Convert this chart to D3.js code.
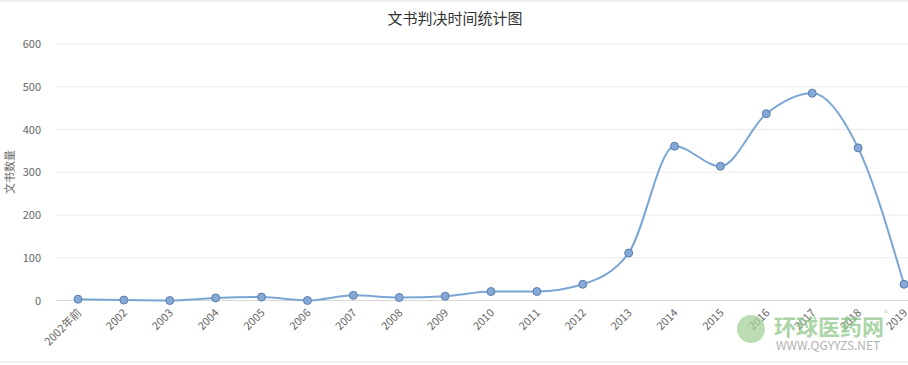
<!DOCTYPE html>
<html>
<head>
<meta charset="utf-8">
<script src="https://cdn.jsdelivr.net/npm/d3@7"></script>
<style>
  body { margin: 0; background: #fff; }
  text { font-family: "Noto Sans CJK SC", "Lato", sans-serif; }
</style>
</head>
<body>
<svg id="chart" width="908" height="365"></svg>
<script>
// data
const categories = ['2002年前', '2002', '2003', '2004', '2005', '2006', '2007', '2008', '2009',
  '2010', '2011', '2012', '2013', '2014', '2015', '2016', '2017', '2018', '2019'];
const counts = [3, 1, 0, 6, 8, 0, 12, 7, 10, 21, 21, 38, 111, 361, 314, 437, 485, 357, 38];
const yTicks = [0, 100, 200, 300, 400, 500, 600];

const svg = d3.select('#chart');

// frame lines
svg.append('line').attr('x1', 0).attr('x2', 908).attr('y1', 1).attr('y2', 1)
  .attr('stroke', '#e0e0e0');
svg.append('line').attr('x1', 0).attr('x2', 908).attr('y1', 362).attr('y2', 362)
  .attr('stroke', '#e0e0e0');

svg.append('text')
  .attr('x', 455).attr('y', 24)
  .attr('text-anchor', 'middle')
  .attr('font-size', 15)
  .attr('fill', '#333')
  .text('文书判决时间统计图');

let x = d3.scalePoint()
  .domain(categories)
  .range([78, 904]);

let y = d3.scaleLinear()
  .domain([0, 600])
  .range([300.5, 44]);

// gridlines
svg.append('g')
  .selectAll('line')
  .data(yTicks.slice(1))
  .join('line')
  .attr('x1', 56).attr('x2', 908)
  .attr('y1', d => y(d)).attr('y2', d => y(d))
  .attr('stroke', '#ececec');

// y labels
svg.append('g')
  .selectAll('text')
  .data(yTicks)
  .join('text')
  .attr('x', 41)
  .attr('y', d => y(d) + 4)
  .attr('text-anchor', 'end')
  .attr('font-size', 11)
  .attr('fill', '#666')
  .text(d => d);

svg.append('text')
  .attr('transform', 'translate(14,172) rotate(-90)')
  .attr('text-anchor', 'middle')
  .attr('font-size', 11)
  .attr('fill', '#666')
  .text('文书数量');

// x baseline
svg.append('line')
  .attr('x1', 56).attr('x2', 908)
  .attr('y1', y(0)).attr('y2', y(0))
  .attr('stroke', '#d8d8d8');

// x labels, rotated
svg.append('g')
  .selectAll('text')
  .data(categories)
  .join('text')
  .attr('transform', d => `translate(${x(d) + 4},${y(0) + 13}) rotate(-45)`)
  .attr('text-anchor', 'end')
  .attr('font-size', 11)
  .attr('fill', '#666')
  .text(d => d);

// watermark
let wm = svg.append('g').attr('opacity', 0.75);
wm.append('circle').attr('cx', 751).attr('cy', 329).attr('r', 14)
  .attr('fill', '#a6d19a');
wm.append('text').attr('x', 774).attr('y', 335)
  .attr('font-size', 22).attr('font-weight', 'bold')
  .attr('fill', '#8fc88a')
  .text('环球医药网');
wm.append('text').attr('x', 884).attr('y', 316)
  .attr('font-size', 8).attr('fill', '#9fcf98')
  .text('®');
wm.append('text').attr('x', 776).attr('y', 350)
  .attr('font-size', 12).attr('fill', '#999')
  .attr('font-family', 'Liberation Sans, Arial, sans-serif')
  .text('WWW.QGYYZS.NET');

let line = d3.line()
  .x((d, i) => x(categories[i]))
  .y(d => y(d))
  .curve(d3.curveMonotoneX);

svg.append('path')
  .datum(counts)
  .attr('d', line)
  .attr('fill', 'none')
  .attr('stroke', '#7ba6d4')
  .attr('stroke-width', 2);

svg.append('g')
  .selectAll('circle')
  .data(counts)
  .join('circle')
  .attr('cx', (d, i) => x(categories[i]))
  .attr('cy', d => y(d))
  .attr('r', 4)
  .attr('fill', '#86a8d6')
  .attr('stroke', '#5a7fae')
  .attr('stroke-width', 1);
</script>
</body>
</html>
